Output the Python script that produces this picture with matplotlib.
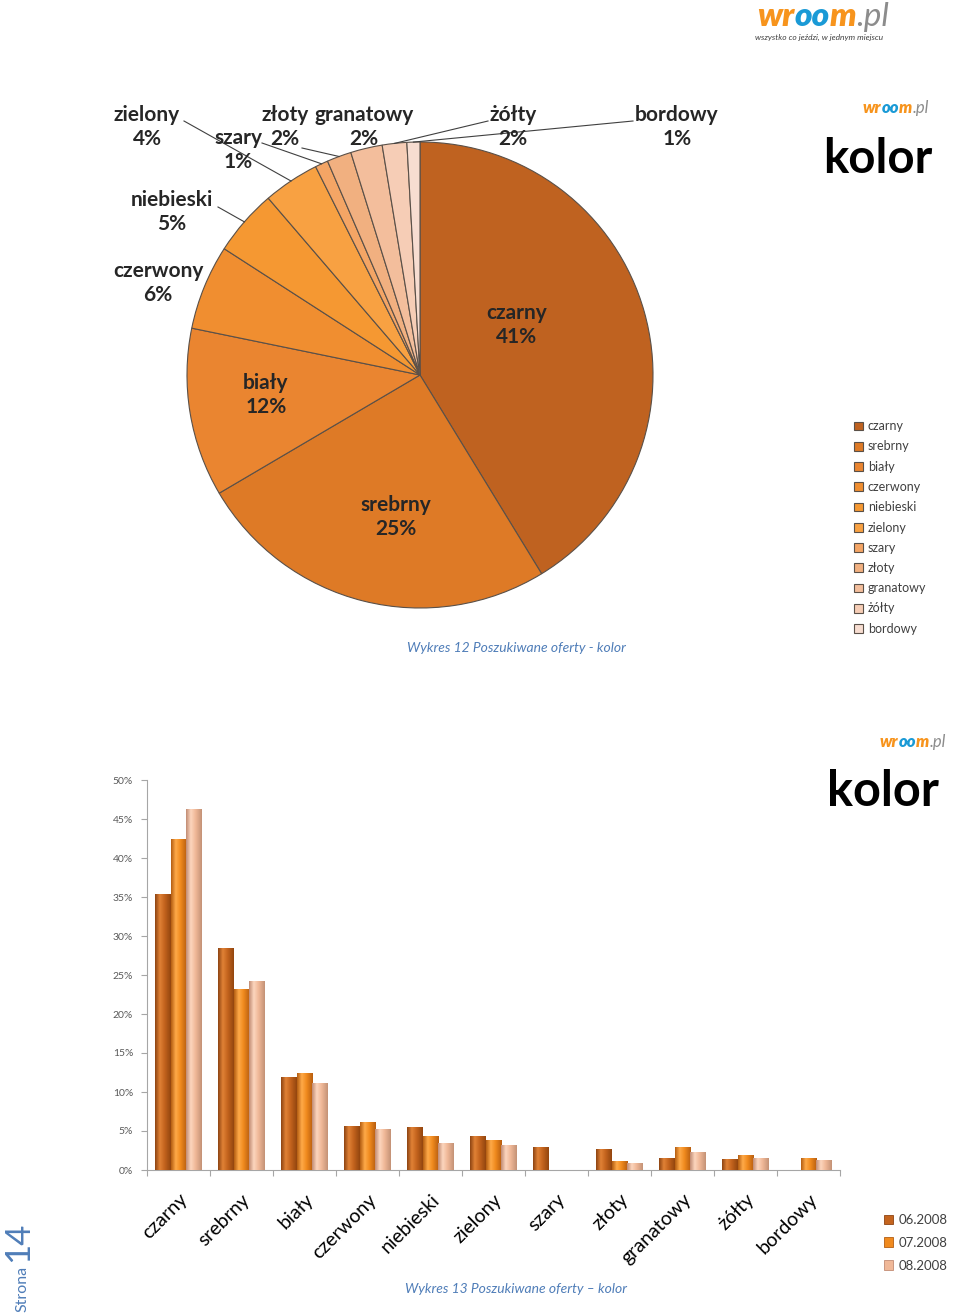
import numpy as np
import matplotlib.pyplot as plt
from matplotlib.colors import LinearSegmentedColormap
from matplotlib.patches import Patch

plt.rcParams['font.family'] = ['Lato', 'DejaVu Sans']

# ---- dane: wykres kolowy (Wykres 12) ----
kolory = ["czarny", "srebrny", "biały", "czerwony", "niebieski", "zielony",
          "szary", "złoty", "granatowy", "żółty", "bordowy"]
udzial = [41.3, 25.3, 11.7, 5.9, 4.6, 3.9, 0.9, 1.7, 2.2, 1.7, 0.9]
barwy_kola = ["#BF6220", "#DE7A26", "#EA8530", "#F08E30", "#F59832", "#F8A142",
              "#F4A565", "#F1B080", "#F3BE9C", "#F6CDB6", "#F7DDD1"]

# ---- dane: wykres slupkowy (Wykres 13) ----
okresy = ["06.2008", "07.2008", "08.2008"]
v06 = [35.4, 28.5, 11.9, 5.6, 5.5, 4.3, 3.0, 2.7, 1.6, 1.4, 0.0]
v07 = [42.4, 23.2, 12.4, 6.1, 4.3, 3.8, 0.0, 1.1, 3.0, 1.9, 1.6]
v08 = [46.3, 24.2, 11.2, 5.3, 3.5, 3.2, 0.0, 0.85, 2.35, 1.6, 1.3]
yticks = [0, 5, 10, 15, 20, 25, 30, 35, 40, 45, 50]

W, H = 960, 1316
fig = plt.figure(figsize=(W / 100, H / 100), dpi=100)


def fx(px):
    return px / W


def fy(py):
    return 1 - py / H


# logo helper: kolejne kawalki tekstu jeden za drugim
def logo(x, y, size, czesci):
    r = fig.canvas.get_renderer()
    for tekst, kolor, waga in czesci:
        t = fig.text(fx(x), fy(y), tekst, color=kolor, fontsize=size,
                     fontweight=waga, fontstyle='italic', ha='left', va='baseline')
        x += t.get_window_extent(renderer=r).width


mala_czesc = [("wr", "#F7941D", "heavy"), ("oo", "#1A9AD6", "heavy"),
              ("m", "#F7941D", "heavy"), (".pl", "#8C8C8C", "normal")]

# naglowek strony
logo(757, 26, 24, mala_czesc)
fig.text(fx(755), fy(40), "wszystko co jeździ, w jednym miejscu", fontsize=6,
         fontstyle='italic', color='#404040', ha='left', va='baseline')

# ================= wykres kolowy =================
cx, cy, R = 420, 375, 233
axp = fig.add_axes([fx(cx - R), fy(cy + R), 2 * R / W, 2 * R / H])
wedges, _ = axp.pie(udzial, colors=barwy_kola, startangle=90, counterclock=False,
                    wedgeprops=dict(edgecolor='#5a5048', linewidth=0.8))
axp.set_xlim(-1, 1)
axp.set_ylim(-1, 1)
axp.set_aspect('equal')
axp.axis('off')


def do_danych(px, py):
    return (px - cx) / R, (cy - py) / R


# pozycje etykiet (piksele) i poczatki linii odniesienia
poz_etykiet = {
    "czarny": (517, 325), "srebrny": (396, 517), "biały": (266, 395),
    "czerwony": (158, 283), "niebieski": (172, 212), "zielony": (147, 127),
    "szary": (238, 150), "złoty": (285, 127), "granatowy": (364, 127),
    "żółty": (513, 127), "bordowy": (677, 127),
}
start_linii = {
    "niebieski": (218, 207), "zielony": (184, 121), "szary": (262, 143),
    "złoty": (302, 148), "żółty": (488, 121), "bordowy": (633, 121),
}

for w, nazwa, v in zip(wedges, kolory, udzial):
    px, py = poz_etykiet[nazwa]
    tx, ty = do_danych(px, py)
    axp.text(tx, ty, f"{nazwa}\n{round(v)}%", ha='center', va='center',
             fontsize=15, fontweight='bold', color='#262626', linespacing=1.3,
             clip_on=False)
    if nazwa in start_linii:
        kat = np.deg2rad((w.theta1 + w.theta2) / 2)
        ex, ey = np.cos(kat), np.sin(kat)
        sx, sy = do_danych(*start_linii[nazwa])
        axp.plot([sx, ex], [sy, ey], color='#404040', lw=0.8, clip_on=False)

fig.legend(wedges, kolory, loc='upper left', bbox_to_anchor=(fx(843), fy(409)),
           frameon=False, fontsize=9, labelspacing=0.66, handlelength=0.7,
           handleheight=0.7, handletextpad=0.4, labelcolor='#404040')

logo(863, 113, 12, mala_czesc)
fig.text(fx(823), fy(173), "kolor", fontsize=34, fontweight='bold', color='black',
         ha='left', va='baseline')
fig.text(fx(516), fy(648), "Wykres 12 Poszukiwane oferty - kolor", fontsize=10,
         fontstyle='italic', color='#4F7DB8', ha='center', va='center')

# ================= wykres slupkowy =================
axb = fig.add_axes([fx(147), fy(1170), 693 / W, 390 / H])
x = np.arange(len(kolory))
sz = 0.245
serie = [(v06, -sz, ["#8E4412", "#E08236", "#C4641E", "#93460F"]),
         (v07, 0.0, ["#B45E12", "#FFAA48", "#F08A1E", "#B85E10"]),
         (v08, sz, ["#C28C74", "#FCD6BE", "#F0B898", "#C49276"])]
grad = np.linspace(0, 1, 64).reshape(1, -1)
uchwyty = []
for wart, dx, stopnie in serie:
    cmap = LinearSegmentedColormap.from_list("g", list(zip([0, 0.3, 0.6, 1], stopnie)))
    slupki = axb.bar(x + dx, wart, width=sz, color=stopnie[2], linewidth=0, zorder=2)
    for b in slupki:
        h = b.get_height()
        if h <= 0:
            continue
        x0 = b.get_x()
        im = axb.imshow(grad, cmap=cmap, aspect='auto', zorder=3,
                        extent=(x0, x0 + b.get_width(), 0, h))
        im.set_clip_path(b)
    uchwyty.append(Patch(facecolor=stopnie[2], edgecolor=stopnie[0], linewidth=0.6))

axb.set_xlim(-0.5, len(kolory) - 0.5)
axb.set_ylim(0, 50)
axb.set_yticks(yticks)
axb.set_yticklabels([f"{t}%" for t in yticks], fontsize=7.5, color='#595959')
axb.set_xticks(np.arange(len(kolory) + 1) - 0.5)
axb.set_xticklabels([])
axb.set_xticks(x, minor=True)
axb.set_xticklabels(kolory, minor=True, rotation=45, ha='right', va='top',
                    rotation_mode='anchor', fontsize=14, color='black')
axb.tick_params(axis='x', which='minor', length=0, pad=15)
axb.tick_params(axis='x', which='major', length=4, color='#A6A6A6')
axb.tick_params(axis='y', length=4, color='#A6A6A6', pad=6)
for s in ['top', 'right']:
    axb.spines[s].set_visible(False)
for s in ['left', 'bottom']:
    axb.spines[s].set_color('#A6A6A6')

fig.legend(uchwyty, okresy, loc='upper left', bbox_to_anchor=(fx(872), fy(1202)),
           frameon=False, fontsize=9.5, labelspacing=0.82, handlelength=0.7,
           handleheight=0.7, handletextpad=0.4, labelcolor='#404040')

logo(880, 747, 12, mala_czesc)
fig.text(fx(827), fy(806), "kolor", fontsize=35, fontweight='bold', color='black',
         ha='left', va='baseline')
fig.text(fx(516), fy(1289), "Wykres 13 Poszukiwane oferty – kolor", fontsize=10,
         fontstyle='italic', color='#4F7DB8', ha='center', va='center')

# numer strony
fig.text(fx(22), fy(1312), "Strona", rotation=90, fontsize=11.5, color='#4F7DB8',
         ha='center', va='bottom')
fig.text(fx(18), fy(1262), "14", rotation=90, fontsize=25, color='#4F7DB8',
         ha='center', va='bottom')

fig.savefig("out.png", dpi=100)
